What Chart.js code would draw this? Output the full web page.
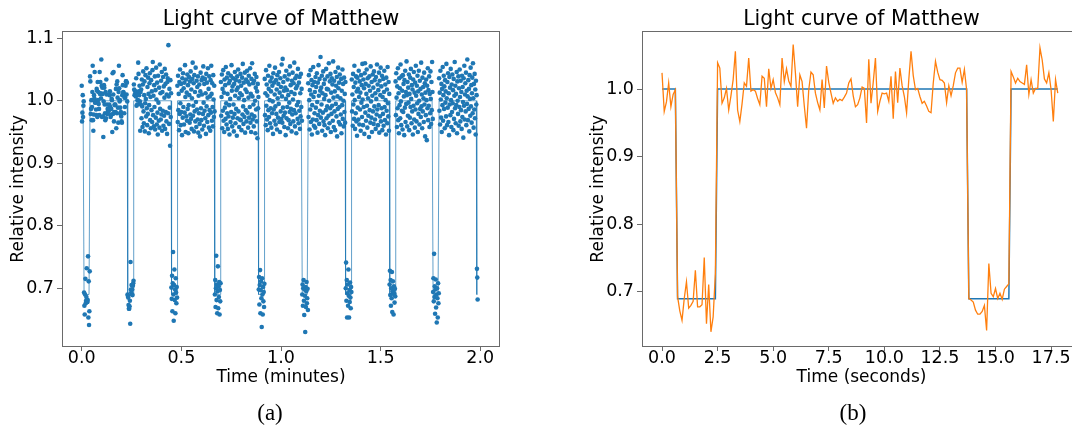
<!DOCTYPE html>
<html>
<head>
<meta charset="utf-8">
<title>Light curve of Matthew</title>
<script src="https://cdn.jsdelivr.net/npm/chart.js@4.4.1/dist/chart.umd.min.js"></script>
<style>
  html, body { margin: 0; padding: 0; background: #fff; overflow: hidden; width: 1072px; height: 425px; }
  canvas { position: absolute; top: 0; }
  #chartA { left: 0; }
  #chartB { left: 580px; }
  .cap { position: absolute; top: 401px; line-height: 23px; font-family: "Liberation Serif", serif; font-size: 23px; color: #000; transform: translateX(-50%); }
</style>
</head>
<body>
<canvas id="chartA" width="530" height="425"></canvas>
<canvas id="chartB" width="520" height="425"></canvas>
<div class="cap" style="left:270px">(a)</div>
<div class="cap" style="left:853px">(b)</div>
<script>
// measured intensity, one sample every 0.1 s
const samplesPerSecond = 10;
const intensity = [
  // 0 - 17.8 s (also shown in panel b)
  1.024, 0.967, 0.981, 1.009, 0.974, 0.992, 0.999,
  0.693, 0.672, 0.658, 0.690, 0.715, 0.676, 0.680, 0.686, 0.732, 0.678, 0.678, 0.681, 0.751, 0.653, 0.711, 0.641, 0.663, 0.727,
  1.039, 1.031, 0.979, 0.987, 1.001, 0.969, 0.990, 1.014, 1.056, 0.969, 0.952, 0.978, 1.009, 1.004, 1.046, 0.997, 0.999, 0.997, 0.986, 0.977, 1.019,
  1.016, 0.974, 1.030, 1.001, 1.014, 0.995, 0.987, 0.977, 1.046, 1.011, 1.030, 1.012, 1.004, 1.066, 1.024, 0.974, 1.021, 1.011, 0.975, 0.942,
  0.999, 1.025, 1.021, 0.994, 0.980, 0.969, 1.014, 0.972, 1.034, 1.010, 0.994, 0.979, 0.987, 0.982, 0.985, 0.983, 0.988, 0.994, 1.009, 1.015,
  0.990, 0.974, 0.977, 0.987, 1.003, 1.001, 0.950, 1.044,
  0.979, 1.010, 1.046, 0.967, 0.982, 0.994, 0.993, 0.994, 0.982, 1.019, 0.956, 1.026, 0.980, 1.031, 1.005, 0.989, 0.965, 1.014, 1.056, 1.020,
  0.999, 1.001, 0.989, 0.979, 0.982, 0.975, 0.967, 0.965, 1.009, 1.041, 1.025, 1.014, 1.013, 1.009, 0.980, 1.005, 0.990, 1.005, 1.024, 1.031,
  1.031, 1.010, 1.029, 0.999,
  0.690, 0.688, 0.685, 0.673, 0.667, 0.667, 0.671, 0.680, 0.643, 0.742, 0.698, 0.693, 0.705, 0.690, 0.698, 0.689, 0.704, 0.708, 0.712,
  1.026, 1.018, 1.009, 1.016, 1.011, 1.009, 1.007, 1.036, 0.992, 1.014, 0.994, 1.001, 1.001, 1.061, 1.043, 1.015, 1.009, 1.024, 0.999, 0.952,
  1.014, 0.994,
  // 17.9 s onwards
  1.018, 0.972, 1.034, 0.991, 0.958, 1.026, 1.047, 0.983, 0.964, 1.009, 1.031, 0.951, 0.996, 1.041, 1.003, 0.975, 1.052, 0.988, 0.961, 1.022,
  0.979, 1.037, 1.011, 0.948, 0.993, 1.028, 1.044, 0.969, 1.006, 0.956, 1.033, 0.985, 1.015, 0.966, 1.049, 1.062, 0.977, 1.008, 0.959, 1.025,
  0.990, 1.039, 0.954, 1.017, 0.973, 1.053, 1.002, 0.962, 1.029, 0.981, 0.946, 1.040, 0.997, 0.968, 1.021, 0.957, 1.058, 0.987, 1.012, 0.970,
  1.032, 0.978, 1.046, 0.952, 1.014, 0.984, 1.038, 0.960, 1.023, 0.976, 1.005, 1.051, 0.955, 1.027, 0.982, 1.042, 0.967, 1.010, 0.947, 1.030,
  1.036, 0.980, 1.089, 1.007, 0.963, 1.019, 0.989, 0.928, 1.033, 0.974, 1.012,
  0.701, 0.683, 0.720, 0.663, 0.708, 0.758, 0.690, 0.648, 0.705, 0.730, 0.681, 0.698, 0.660, 0.716, 0.693, 0.676, 0.702, 0.685,
  1.024, 0.966, 1.040, 0.985, 1.011, 0.953, 1.030, 0.979, 1.050, 0.996, 0.961, 1.027, 0.982, 1.016, 0.945, 1.036, 0.973, 1.044, 0.990, 1.020,
  0.962, 1.029, 0.981, 1.057, 1.006, 0.950, 1.034, 0.975, 1.013, 0.968, 1.042, 0.987, 1.025, 0.948, 0.993, 1.038, 1.009, 0.965, 1.031, 0.978,
  1.047, 0.971, 1.018, 0.955, 1.004, 1.035, 1.061, 0.976, 0.992, 1.028, 0.951, 1.041, 0.983, 1.014, 0.967, 1.053, 0.998, 0.958, 1.032, 0.986,
  1.022, 0.970, 1.039, 0.949, 1.008, 0.980, 1.026, 0.963, 0.943, 1.015, 1.045, 0.988, 0.969, 1.033, 1.010, 0.954, 1.037, 0.979, 1.055, 0.997,
  0.960, 1.027, 0.984, 1.035, 0.972, 1.012, 0.947, 1.043, 0.991, 1.029, 0.966, 1.005, 1.052, 0.977, 1.019, 0.957, 1.039, 0.985, 1.007, 0.952,
  1.033, 0.981, 1.056, 1.011, 0.968, 1.028, 0.990, 0.959, 1.041, 1.002, 0.974, 1.024, 0.983,
  0.690, 0.713, 0.670, 0.700, 0.752, 0.681, 0.706, 0.660, 0.695, 0.735, 0.668, 0.703, 0.686, 0.710, 0.658, 0.697, 0.679, 0.708,
  1.030, 0.976, 1.006, 1.042, 0.956, 1.019, 0.984, 1.049, 0.968, 1.013, 0.950, 1.034, 0.989, 1.025, 0.971, 1.054, 0.996, 0.962, 1.037, 0.980,
  1.011, 0.955, 1.044, 0.975, 1.028, 0.993, 0.946, 1.032, 1.003, 0.966, 1.040, 0.982, 1.057, 1.016, 0.959, 1.023, 0.973, 1.036, 0.994, 0.951,
  1.027, 0.979, 1.046, 1.008, 0.964, 1.033, 0.987, 1.017, 0.944, 1.039, 0.972, 1.021, 1.050, 0.983, 1.004, 0.958, 1.031, 0.970, 1.012, 1.043,
  0.969, 1.024, 0.953, 1.009, 1.037, 0.978, 1.059, 0.991, 0.963, 1.029, 1.001, 0.974, 1.045, 0.949, 1.018, 0.985, 1.034, 0.967, 1.014, 1.048,
  0.981, 1.030, 0.957, 1.005, 1.040, 0.973, 1.026, 0.990, 1.052, 0.965, 1.011, 0.950, 1.035, 0.978, 1.060, 1.007, 0.970, 1.028, 0.994, 0.959,
  1.032, 0.975, 1.043, 1.000, 0.948, 1.021, 0.986, 1.038, 0.967, 1.015, 0.940, 1.027, 0.988, 1.006,
  0.698, 0.718, 0.674, 0.705, 0.729, 0.660, 0.697, 0.711, 0.684, 0.638, 0.716, 0.690, 0.658, 0.702, 0.679, 0.694, 0.670, 0.707,
  1.035, 0.977, 1.012, 0.961, 1.049, 0.992, 1.026, 0.970, 1.008, 0.953, 1.040, 0.985, 1.019, 0.974, 1.056, 1.001, 0.964, 1.031, 0.988, 1.015,
  0.957, 1.037, 0.980, 1.024, 0.999, 0.947, 1.044, 0.986, 1.029, 0.968, 1.010, 1.053, 0.991, 0.962, 1.033, 0.979, 1.018, 0.954, 1.041, 1.004,
  0.973, 1.027, 0.995, 1.046, 0.966, 1.013, 0.950, 1.036, 0.983, 1.022, 0.971, 1.058, 1.007, 0.965, 1.067, 0.989, 1.030, 0.976, 1.016, 0.958,
  1.039, 0.981, 1.021, 0.945, 1.003, 1.048, 0.972, 1.017, 0.990, 1.034, 0.956, 1.009, 0.969, 1.042, 0.997, 0.982, 1.055, 0.963, 1.025, 0.987,
  1.014, 0.951, 1.032, 0.978, 1.045, 1.002, 0.967, 1.028, 0.985, 1.061, 1.011, 0.959, 1.036, 0.980, 1.020, 0.948, 1.040, 0.993, 1.024, 0.971,
  1.051, 0.998, 0.964, 1.029, 0.984, 1.038, 0.955, 1.012, 0.975, 1.043, 0.990, 1.019, 0.968,
  0.690, 0.706, 0.672, 0.700, 0.713, 0.680, 0.657, 0.698, 0.688, 0.630, 0.702, 0.670, 0.695, 0.710, 0.676, 0.684, 0.699, 0.665,
  1.028, 0.974, 1.041, 1.001, 0.954, 1.017, 0.986, 1.049, 0.966, 1.010, 1.033, 0.946, 0.993, 1.025, 0.970, 1.054, 1.006, 0.960, 1.030, 0.980,
  1.014, 0.957, 1.038, 0.989, 1.022, 0.969, 1.044, 0.998, 0.949, 1.029, 0.977, 1.057, 1.008, 0.963, 1.035, 0.984, 1.016, 1.070, 0.973, 1.021,
  0.994, 1.040, 0.952, 1.012, 0.981, 1.047, 0.967, 1.027, 1.003, 0.961, 1.034, 0.945, 1.009, 0.985, 1.051, 0.972, 1.019, 0.991, 1.039, 0.956,
  1.018, 0.976, 1.060, 1.000, 0.964, 1.031, 0.988, 1.043, 0.950, 1.013, 0.979, 1.036, 0.992, 1.026, 0.968, 1.063, 1.005, 0.958, 1.032, 0.983,
  1.015, 0.953, 1.046, 0.995, 1.024, 0.975, 1.038, 0.943, 1.007, 0.987, 1.053, 1.020, 0.966, 1.029, 0.990, 1.042, 0.962, 1.004, 0.978, 1.035,
  0.948, 1.016, 0.993, 1.050, 0.971, 1.027, 1.000, 0.959, 1.037, 0.982, 1.011, 0.965, 1.030,
  0.700, 0.741, 0.680, 0.713, 0.653, 0.692, 0.706, 0.672, 0.730, 0.688, 0.653, 0.697, 0.678, 0.709, 0.685, 0.668, 0.702, 0.694,
  1.034, 0.983, 1.010, 0.960, 1.043, 0.994, 1.022, 0.971, 1.056, 1.001, 0.955, 1.029, 0.980, 1.039, 0.967, 1.015, 0.944, 1.037, 0.989, 1.019,
  0.970, 1.048, 1.006, 0.962, 1.031, 0.986, 1.013, 0.952, 1.041, 0.997, 1.025, 0.974, 1.059, 1.002, 0.961, 1.034, 0.990, 1.020, 0.947, 1.044,
  1.060, 0.981, 1.027, 0.968, 1.011, 1.050, 0.992, 0.957, 1.036, 1.004, 0.976, 1.024, 0.942, 1.039, 0.985, 1.016, 0.965, 1.055, 0.999, 0.973,
  1.030, 0.950, 1.008, 1.042, 0.983, 1.021, 0.963, 1.047, 0.991, 1.033, 0.970, 1.012, 0.955, 1.038, 1.003, 0.978, 1.058, 0.986, 1.026, 0.961,
  1.017, 0.993, 1.045, 0.949, 1.032, 0.975, 1.009, 1.053, 0.967, 1.023, 0.988, 1.040, 0.953, 1.006, 0.979, 1.035, 0.960, 1.014, 1.048, 0.990,
  0.969, 1.026, 1.001, 0.946, 1.037, 0.984, 1.018, 0.964, 1.054, 0.996, 0.975, 1.030, 0.952, 1.011,
  0.706, 0.728, 0.689, 0.713, 0.672, 0.700, 0.684, 0.726, 0.662, 0.695, 0.711, 0.691, 0.658, 0.703, 0.692, 0.677, 0.699, 0.687,
  1.031, 0.977, 1.044, 1.005, 0.958, 1.023, 0.988, 1.052, 0.969, 1.012, 0.948, 1.036, 0.993, 1.020, 0.972, 1.058, 0.999, 0.961, 1.039, 0.984,
  1.016, 0.954, 1.041, 0.982, 1.027, 1.007, 0.945, 1.033, 0.989, 1.048, 0.966, 1.014, 0.995, 1.063, 1.009, 0.959, 1.030, 0.976, 1.021, 0.997,
  1.042, 0.953, 1.011, 0.973, 1.037, 0.990, 1.051, 1.003, 0.964, 1.025, 0.983, 1.018, 0.946, 1.034, 0.992, 1.046, 0.970, 1.013, 0.957, 1.029,
  0.986, 1.056, 1.008, 0.967, 1.024, 0.996, 1.040, 0.950, 1.015, 0.979, 1.048, 1.000, 0.962, 1.032, 0.987, 1.019, 0.974, 1.061, 0.991, 1.010,
  0.956, 1.037, 0.983, 1.022, 1.004, 0.966, 1.045, 0.994, 1.028, 0.943, 1.013, 0.977, 1.034, 1.001, 0.937, 1.024, 0.988, 1.052, 0.969, 1.017,
  0.992, 1.039, 0.958, 1.011, 0.980, 1.047, 1.003, 0.963, 1.030, 0.985, 1.062, 1.014, 0.971,
  0.694, 0.716, 0.679, 0.755, 0.686, 0.703, 0.659, 0.698, 0.714, 0.669, 0.690, 0.645, 0.700, 0.684, 0.653, 0.708, 0.676, 0.692,
  1.036, 0.984, 1.013, 0.962, 1.048, 1.002, 0.973, 1.027, 0.950, 1.019, 0.993, 1.054, 0.968, 1.009, 1.040, 0.987, 1.023, 0.956, 1.033, 0.997,
  1.015, 0.975, 1.059, 1.004, 0.961, 1.030, 0.989, 1.044, 0.966, 1.012, 0.945, 1.038, 0.994, 1.021, 0.977, 1.051, 1.001, 0.958, 1.026, 0.982,
  1.042, 0.996, 1.017, 0.953, 1.035, 0.971, 1.008, 1.062, 0.988, 1.024, 0.964, 1.011, 0.993, 1.046, 0.948, 1.031, 1.000, 0.979, 1.039, 0.960,
  1.020, 0.990, 1.050, 1.006, 0.967, 1.032, 0.985, 1.014, 0.955, 1.040, 0.974, 1.022, 0.998, 0.941, 1.036, 0.992, 1.056, 0.970, 1.010, 1.028,
  0.983, 1.045, 0.961, 1.016, 0.995, 1.066, 1.007, 0.969, 1.033, 0.987, 1.019, 0.951, 1.041, 1.003, 0.976, 1.053, 0.991, 1.025, 0.965, 1.012,
  1.037, 0.980, 1.060, 1.004, 0.957, 1.027, 0.986, 1.043, 0.972, 1.018, 0.946, 1.032, 0.994, 1.009,
  0.731, 0.717, 0.682
];

// transit windows (seconds) and box model levels
const transitStart = [0.7, 13.8, 27.0, 40.1, 53.3, 66.4, 79.5, 92.7, 105.8, 119.0];
const transitEnd   = [2.4, 15.6, 28.7, 41.8, 55.0, 68.1, 81.2, 94.4, 107.5, 120.7];
const outOfTransit = 1.0;
const inTransit = 0.69;

const zoomEnd = 17.8; // seconds shown in panel (b)

const xTicksA = [0.0, 0.5, 1.0, 1.5, 2.0];
const yTicksA = [0.7, 0.8, 0.9, 1.0, 1.1];
const xTicksB = [0.0, 2.5, 5.0, 7.5, 10.0, 12.5, 15.0, 17.5];
const yTicksB = [0.7, 0.8, 0.9, 1.0];

const seconds = intensity.map((v, i) => i / samplesPerSecond);
const model = seconds.map(t =>
  transitStart.some((s, k) => t >= s - 1e-9 && t <= transitEnd[k] + 1e-9) ? inTransit : outOfTransit);

const blue = '#1f77b4';
const orange = '#ff7f0e';
const spine = '#6a6a6a';

Chart.defaults.font.family = 'DejaVu Sans';
Chart.defaults.color = '#000';

const tickFont = { family: 'DejaVu Sans', size: 17.5, lineHeight: 0.9 };
const labelFont = { family: 'DejaVu Sans', size: 17 };
const titleFont = { family: 'DejaVu Sans', size: 20.5, weight: 'normal', lineHeight: 1.2 };

// matplotlib style box around the axes
const frame = {
  id: 'frame',
  afterDraw(chart) {
    const { ctx, chartArea: a } = chart;
    ctx.save();
    ctx.strokeStyle = spine;
    ctx.lineWidth = 1;
    ctx.strokeRect(Math.round(a.left) - 0.5, Math.round(a.top) - 0.5,
      Math.round(a.right - a.left) + 1, Math.round(a.bottom - a.top) + 1);
    ctx.restore();
  }
};

function makeScales(o) {
  return {
    x: {
      type: 'linear', min: o.xmin, max: o.xmax,
      afterBuildTicks: s => { s.ticks = o.xticks.map(v => ({ value: v })); },
      afterFit: s => { s.height = 79; },
      grid: { drawOnChartArea: false, tickLength: 5, tickColor: spine, color: spine },
      border: { display: false },
      ticks: { font: tickFont, color: '#000', padding: 0, maxRotation: 0, autoSkip: false,
               callback: v => v.toFixed(1) },
      title: { display: true, text: o.xtitle, font: labelFont, color: '#000', padding: { top: 0, bottom: 37 } }
    },
    y: {
      type: 'linear', min: o.ymin, max: o.ymax,
      afterBuildTicks: s => { s.ticks = o.yticks.map(v => ({ value: v })); },
      afterFit: s => { s.width = 63; },
      grid: { drawOnChartArea: false, tickLength: 6, tickColor: spine, color: spine },
      border: { display: false },
      ticks: { font: tickFont, color: '#000', padding: 3, callback: v => v.toFixed(1) },
      title: { display: true, text: 'Relative intensity', font: labelFont, color: '#000', padding: { top: 8, bottom: 0 } }
    }
  };
}

function basePlugins() {
  return {
    legend: { display: false },
    tooltip: { enabled: false },
    title: { display: true, text: 'Light curve of Matthew', font: titleFont, color: '#000',
             fullSize: false, padding: { top: 7, bottom: 0 } }
  };
}

// (a) whole recording, time in minutes
new Chart(document.getElementById('chartA'), {
  type: 'scatter',
  data: {
    datasets: [
      { data: seconds.map((t, i) => ({ x: t / 60, y: model[i] })), showLine: true, pointRadius: 0,
        borderColor: 'rgba(31,119,180,0.7)', borderWidth: 1 },
      { data: seconds.map((t, i) => ({ x: t / 60, y: intensity[i] })), showLine: false, pointRadius: 2.3,
        pointBackgroundColor: blue, pointBorderWidth: 0 }
    ]
  },
  options: {
    responsive: false, animation: false, events: [],
    layout: { padding: { left: 0, right: 31, top: 0, bottom: 0 } },
    plugins: basePlugins(),
    scales: makeScales({ xmin: -0.094, xmax: 2.094, ymin: 0.6075, ymax: 1.1107,
      xticks: xTicksA, yticks: yTicksA, xtitle: 'Time (minutes)' })
  },
  plugins: [frame]
});

// (b) first 18 seconds, time in seconds
const nB = seconds.filter(t => t <= zoomEnd + 1e-9).length;
new Chart(document.getElementById('chartB'), {
  type: 'scatter',
  data: {
    datasets: [
      { data: seconds.slice(0, nB).map((t, i) => ({ x: t, y: intensity[i] })), showLine: true, pointRadius: 0,
        borderColor: orange, borderWidth: 1.3 },
      { data: seconds.slice(0, nB).map((t, i) => ({ x: t, y: model[i] })), showLine: true, pointRadius: 0,
        borderColor: blue, borderWidth: 1.5 }
    ]
  },
  options: {
    responsive: false, animation: false, events: [],
    layout: { padding: { left: 0, right: 20, top: 0, bottom: 0 } },
    plugins: basePlugins(),
    scales: makeScales({ xmin: -0.855, xmax: 18.80, ymin: 0.620, ymax: 1.085,
      xticks: xTicksB, yticks: yTicksB, xtitle: 'Time (seconds)' })
  },
  plugins: [frame]
});
</script>
</body>
</html>
